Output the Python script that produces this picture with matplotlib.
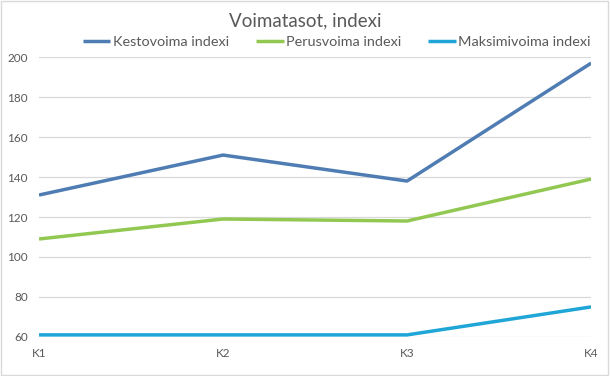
import matplotlib.pyplot as plt
from matplotlib.patches import Rectangle

# data
kierrokset = ["K1", "K2", "K3", "K4"]
kestovoima = [131, 151, 138, 197]
perusvoima = [109, 119, 118, 139]
maksimivoima = [61, 61, 61, 75]
y_ticks = [60, 80, 100, 120, 140, 160, 180, 200]

plt.rcParams['font.family'] = ['Lato', 'DejaVu Sans']

fig = plt.figure(figsize=(6.1, 3.76), dpi=100)
ax = fig.add_axes([0.064, 0.104, 0.905, 0.744])

x = range(len(kierrokset))
ax.plot(x, kestovoima, color='#4f7db3', lw=2.5, label='Kestovoima indexi', solid_capstyle='butt')
ax.plot(x, perusvoima, color='#92c852', lw=2.5, label='Perusvoima indexi', solid_capstyle='butt')
ax.plot(x, maksimivoima, color='#1fa6d6', lw=2.5, label='Maksimivoima indexi', solid_capstyle='butt')

ax.set_xlim(0, 3)
ax.set_ylim(60, 200)
ax.set_yticks(y_ticks)
ax.set_xticks(list(x))
ax.set_xticklabels(kierrokset)
ax.grid(axis='y', color='#d9d9d9', lw=0.9)
ax.set_axisbelow(True)
for s in ax.spines.values():
    s.set_visible(False)
ax.tick_params(length=0, labelsize=8.5, colors='#595959', pad=8)
ax.tick_params(axis='y', pad=8)

fig.text(0.5, 0.944, 'Voimatasot, indexi', ha='center', va='center', fontsize=13.5, color='#595959')
leg = fig.legend(loc='center', bbox_to_anchor=(0.552, 0.888), ncol=3, frameon=False,
                 fontsize=10.4, handlelength=1.9, handletextpad=0.15, columnspacing=1.9)
for t in leg.get_texts():
    t.set_color('#595959')

fig.patches.append(Rectangle((0.002, 0.003), 0.995, 0.994, transform=fig.transFigure,
                             fill=False, edgecolor='#d9d9d9', lw=1))

fig.savefig('out.png', dpi=100)
